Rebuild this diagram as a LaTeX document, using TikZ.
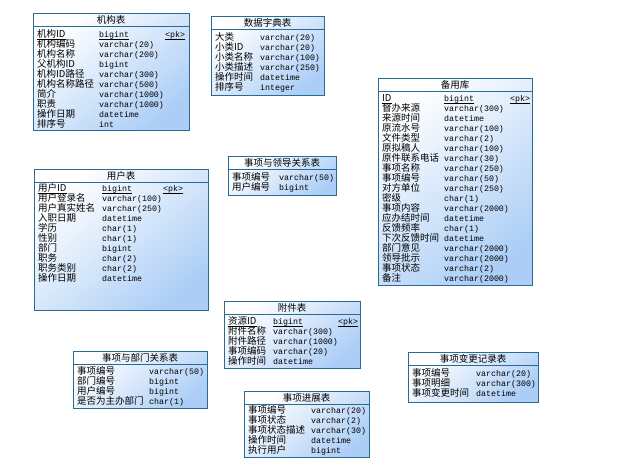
\documentclass[tikz,border=0pt]{standalone}
\usepackage{fontspec}
\newfontfamily\cjk{Noto Sans CJK SC}
\newfontfamily\monof{Liberation Mono}
\definecolor{bordc}{RGB}{40,108,150}
\definecolor{fillc}{RGB}{172,206,246}
\tikzset{
  tbl/.style={draw=bordc, line width=0.9pt, anchor=north west, inner sep=0pt,
    top color=white, bottom color=fillc, shading angle=40},
  sepl/.style={draw=bordc, line width=0.8pt},
  ttl/.style={inner sep=0pt, anchor=base, font=\cjk\fontsize{9.5}{10}\selectfont},
  nm/.style={inner sep=0pt, anchor=base west, font=\cjk\fontsize{9.5}{10}\selectfont},
  ty/.style={inner sep=0pt, anchor=base west, font=\monof\fontsize{8.3}{10}\selectfont},
  ulc/.style={draw=black, line width=0.7pt}
}
\newcommand\tabrow[6]{%
  \node[nm] (#1a) at (#2,{#4+3.5}) {#5};
  \node[ty] (#1b) at (#3,{#4+3.5}) {#6};}
\newcommand\myul[1]{\draw[ulc] ([yshift=-1.9pt]#1.base west) -- ([yshift=-1.9pt]#1.base east);}
\newcommand\tabbox[7]{% name, x, y, w, h, unused, title text
  \node[tbl, minimum width=#4pt, minimum height=#5pt] (#1) at (#2,#3) {};
  \draw[sepl] ([yshift=-13pt]#1.north west) -- ([yshift=-13pt]#1.north east);
  \node[ttl] (#1t) at ({#2+#4/2},{#3+10}) {#7};}
\begin{document}
\begin{tikzpicture}[x=1pt,y=-1pt]
\useasboundingbox (0,0) rectangle (631,469);
\fill[white] (0,0) rectangle (631,469);

% 机构表
\tabbox{jg}{33}{13}{156}{117}{0}{机构表}
\tabrow{jg1}{37}{99}{34}{机构ID}{bigint}
\node[ty] (jgpk) at (165,{34+3.5}) {<pk>};
\myul{jg1a}\myul{jg1b}\myul{jgpk}
\tabrow{jg2}{37}{99}{44}{机构编码}{varchar(20)}
\tabrow{jg3}{37}{99}{54}{机构名称}{varchar(200)}
\tabrow{jg4}{37}{99}{64}{父机构ID}{bigint}
\tabrow{jg5}{37}{99}{74}{机构ID路径}{varchar(300)}
\tabrow{jg6}{37}{99}{84}{机构名称路径}{varchar(500)}
\tabrow{jg7}{37}{99}{94}{简介}{varchar(1000)}
\tabrow{jg8}{37}{99}{104}{职责}{varchar(1000)}
\tabrow{jg9}{37}{99}{114}{操作日期}{datetime}
\tabrow{jg10}{37}{99}{124}{排序号}{int}

% 数据字典表
\tabbox{sj}{211}{16}{113}{79}{0}{数据字典表}
\tabrow{sj1}{215}{260}{37}{大类}{varchar(20)}
\tabrow{sj2}{215}{260}{47}{小类ID}{varchar(20)}
\tabrow{sj3}{215}{260}{57}{小类名称}{varchar(100)}
\tabrow{sj4}{215}{260}{67}{小类描述}{varchar(250)}
\tabrow{sj5}{215}{260}{77}{操作时间}{datetime}
\tabrow{sj6}{215}{260}{87}{排序号}{integer}

% 备用库
\tabbox{by}{378}{78}{154}{207}{0}{备用库}
\tabrow{by1}{382}{444}{98}{ID}{bigint}
\node[ty] (bypk) at (510,{98+3.5}) {<pk>};
\myul{by1a}\myul{by1b}\myul{bypk}
\tabrow{by2}{382}{444}{108}{督办来源}{varchar(300)}
\tabrow{by3}{382}{444}{118}{来源时间}{datetime}
\tabrow{by4}{382}{444}{128}{原流水号}{varchar(100)}
\tabrow{by5}{382}{444}{138}{文件类型}{varchar(2)}
\tabrow{by6}{382}{444}{148}{原拟稿人}{varchar(100)}
\tabrow{by7}{382}{444}{158}{原件联系电话}{varchar(30)}
\tabrow{by8}{382}{444}{168}{事项名称}{varchar(250)}
\tabrow{by9}{382}{444}{178}{事项编号}{varchar(50)}
\tabrow{by10}{382}{444}{188}{对方单位}{varchar(250)}
\tabrow{by11}{382}{444}{198}{密级}{char(1)}
\tabrow{by12}{382}{444}{208}{事项内容}{varchar(2000)}
\tabrow{by13}{382}{444}{218}{应办结时间}{datetime}
\tabrow{by14}{382}{444}{228}{反馈频率}{char(1)}
\tabrow{by15}{382}{444}{238}{下次反馈时间}{datetime}
\tabrow{by16}{382}{444}{248}{部门意见}{varchar(2000)}
\tabrow{by17}{382}{444}{258}{领导批示}{varchar(2000)}
\tabrow{by18}{382}{444}{268}{事项状态}{varchar(2)}
\tabrow{by19}{382}{444}{278}{备注}{varchar(2000)}

% 用户表
\tabbox{yh}{34}{169}{174}{141}{0}{用户表}
\tabrow{yh1}{38}{102}{188}{用户ID}{bigint}
\node[ty] (yhpk) at (163,{188+3.5}) {<pk>};
\myul{yh1a}\myul{yh1b}\myul{yhpk}
\tabrow{yh2}{38}{102}{198}{用户登录名}{varchar(100)}
\tabrow{yh3}{38}{102}{208}{用户真实姓名}{varchar(250)}
\tabrow{yh4}{38}{102}{218}{入职日期}{datetime}
\tabrow{yh5}{38}{102}{228}{学历}{char(1)}
\tabrow{yh6}{38}{102}{238}{性别}{char(1)}
\tabrow{yh7}{38}{102}{248}{部门}{bigint}
\tabrow{yh8}{38}{102}{258}{职务}{char(2)}
\tabrow{yh9}{38}{102}{268}{职务类别}{char(2)}
\tabrow{yh10}{38}{102}{278}{操作日期}{datetime}

% 事项与领导关系表
\tabbox{ld}{228}{156}{108}{39}{0}{事项与领导关系表}
\tabrow{ld1}{232}{279}{177}{事项编号}{varchar(50)}
\tabrow{ld2}{232}{279}{187}{用户编号}{bigint}

% 附件表
\tabbox{fj}{224}{301}{136}{67}{0}{附件表}
\tabrow{fj1}{228}{273}{321}{资源ID}{bigint}
\node[ty] (fjpk) at (338,{321+3.5}) {<pk>};
\myul{fj1a}\myul{fj1b}\myul{fjpk}
\tabrow{fj2}{228}{273}{331}{附件名称}{varchar(300)}
\tabrow{fj3}{228}{273}{341}{附件路径}{varchar(1000)}
\tabrow{fj4}{228}{273}{351}{事项编码}{varchar(20)}
\tabrow{fj5}{228}{273}{361}{操作时间}{datetime}

% 事项与部门关系表
\tabbox{bm}{73}{351}{134}{57}{0}{事项与部门关系表}
\tabrow{bm1}{77}{149}{371}{事项编号}{varchar(50)}
\tabrow{bm2}{77}{149}{381}{部门编号}{bigint}
\tabrow{bm3}{77}{149}{391}{用户编号}{bigint}
\tabrow{bm4}{77}{149}{401}{是否为主办部门}{char(1)}

% 事项进展表
\tabbox{jz}{244}{391}{125}{66}{0}{事项进展表}
\tabrow{jz1}{248}{311}{410}{事项编号}{varchar(20)}
\tabrow{jz2}{248}{311}{420}{事项状态}{varchar(2)}
\tabrow{jz3}{248}{311}{430}{事项状态描述}{varchar(30)}
\tabrow{jz4}{248}{311}{440}{操作时间}{datetime}
\tabrow{jz5}{248}{311}{450}{执行用户}{bigint}

% 事项变更记录表
\tabbox{bg}{408}{352}{130}{50}{0}{事项变更记录表}
\tabrow{bg1}{412}{476}{373}{事项编号}{varchar(20)}
\tabrow{bg2}{412}{476}{383}{事项明细}{varchar(300)}
\tabrow{bg3}{412}{476}{393}{事项变更时间}{datetime}
\end{tikzpicture}
\end{document}
